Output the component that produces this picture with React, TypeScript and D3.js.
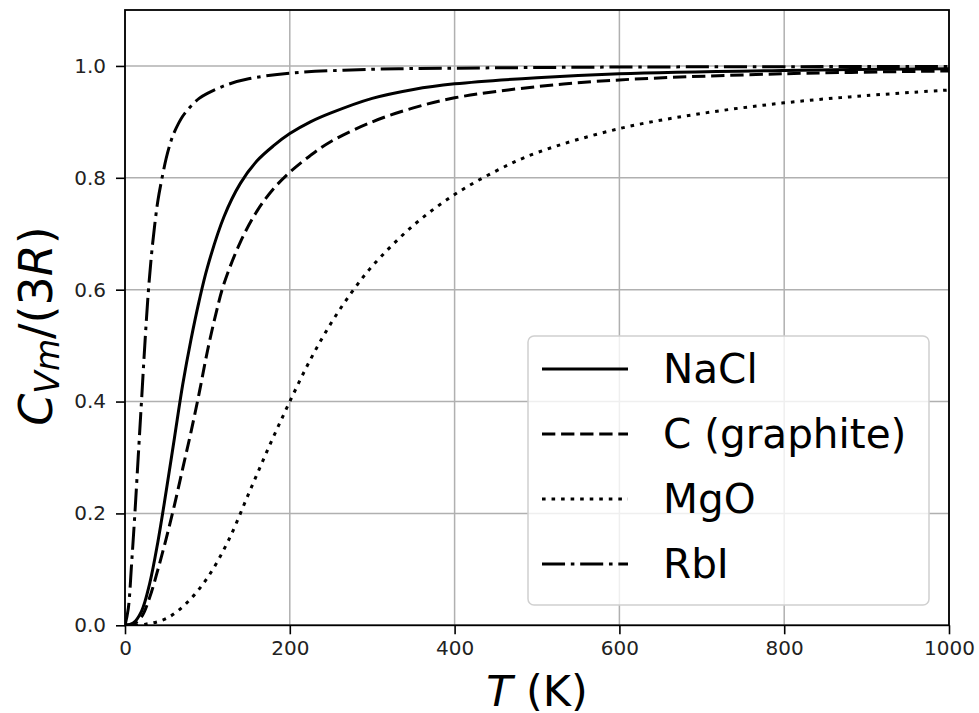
import React, { useEffect, useRef } from "react";
import * as d3 from "d3";

// values (T in K, C_Vm/(3R))
const nacl_T = [0, 10, 20, 30, 40, 50, 60, 70, 80, 90, 100, 120, 140, 160, 180, 200, 225, 250, 300, 350, 400, 500, 600, 800, 1000];
const nacl_C = [0, 0.004, 0.025, 0.075, 0.15, 0.24, 0.335, 0.43, 0.51, 0.58, 0.64, 0.73, 0.79, 0.83, 0.857, 0.879, 0.9, 0.916, 0.942, 0.958, 0.968, 0.979, 0.986, 0.992, 0.995];

const graphite_T = [0, 10, 20, 30, 40, 50, 60, 70, 80, 90, 100, 110, 120, 140, 160, 180, 200, 225, 250, 300, 350, 400, 500, 600, 800, 1000];
const graphite_C = [0, 0.002, 0.015, 0.05, 0.1, 0.155, 0.215, 0.28, 0.345, 0.415, 0.49, 0.555, 0.61, 0.685, 0.74, 0.78, 0.81, 0.84, 0.865, 0.9, 0.925, 0.943, 0.963, 0.975, 0.986, 0.991];

const mgo_T = [0, 25, 50, 75, 100, 125, 150, 175, 200, 225, 250, 275, 300, 350, 400, 450, 500, 600, 700, 800, 900, 1000];
const mgo_C = [0, 0.002, 0.012, 0.04, 0.085, 0.15, 0.235, 0.32, 0.4, 0.475, 0.54, 0.595, 0.642, 0.715, 0.77, 0.812, 0.845, 0.888, 0.915, 0.934, 0.947, 0.957];

const rbi_T = [0, 4, 8, 12, 16, 20, 24, 28, 32, 36, 40, 45, 50, 55, 60, 70, 80, 90, 100, 125, 150, 200, 300, 400, 600, 1000];
const rbi_C = [0, 0.03, 0.11, 0.2, 0.3, 0.4, 0.5, 0.59, 0.66, 0.715, 0.76, 0.8, 0.835, 0.862, 0.882, 0.91, 0.928, 0.942, 0.951, 0.967, 0.977, 0.987, 0.994, 0.996, 0.998, 0.999];

const series_names = ["NaCl", "C (graphite)", "MgO", "RbI"];
const x_ticks = [0, 200, 400, 600, 800, 1000];
const y_ticks = [0, 0.2, 0.4, 0.6, 0.8, 1.0];

const LW = 3.0;
const U = 3.6; // dash unit
const dashes = ["none", `${3.7 * U},${1.6 * U}`, `${U},${1.65 * U}`, `${6.4 * U},${1.6 * U},${U},${1.6 * U}`];

export default function App() {
  const ref = useRef<SVGSVGElement>(null);

  useEffect(() => {
    const width = 979, height = 713;
    const margin = { top: 10, right: 30, bottom: 87.7, left: 125 };
    const inner_width = width - margin.left - margin.right;
    const inner_height = height - margin.top - margin.bottom;
    const font = "'DejaVu Sans', sans-serif";

    const svg = d3.select(ref.current).attr("width", width).attr("height", height);
    svg.selectAll("*").remove();

    const x = d3.scaleLinear().domain([0, 1000]).range([0, inner_width]);
    const y = d3.scaleLinear().domain([0, 1.1]).range([inner_height, 0]);

    const g = svg.append("g").attr("transform", `translate(${margin.left},${margin.top})`);

    svg.append("defs").append("clipPath").attr("id", "plot-clip")
      .append("rect").attr("width", inner_width).attr("height", inner_height);

    // grid
    g.append("g").selectAll("line").data(x_ticks).join("line")
      .attr("x1", d => x(d)).attr("x2", d => x(d)).attr("y1", 0).attr("y2", inner_height)
      .attr("stroke", "#b0b0b0").attr("stroke-width", 1.5);
    g.append("g").selectAll("line").data(y_ticks).join("line")
      .attr("y1", d => y(d)).attr("y2", d => y(d)).attr("x1", 0).attr("x2", inner_width)
      .attr("stroke", "#b0b0b0").attr("stroke-width", 1.5);

    // curves
    const series = [
      { T: nacl_T, C: nacl_C }, { T: graphite_T, C: graphite_C },
      { T: mgo_T, C: mgo_C }, { T: rbi_T, C: rbi_C }
    ];
    const line = d3.line<[number, number]>().x(d => x(d[0])).y(d => y(d[1])).curve(d3.curveCatmullRom.alpha(0.5));
    g.append("g").attr("clip-path", "url(#plot-clip)").selectAll("path").data(series).join("path")
      .attr("d", s => line(s.T.map((t, i) => [t, s.C[i]] as [number, number])))
      .attr("fill", "none").attr("stroke", "#000").attr("stroke-width", LW)
      .attr("stroke-dasharray", (_, i) => dashes[i]).attr("stroke-linejoin", "round");

    // axes
    const xa = g.append("g").attr("transform", `translate(0,${inner_height})`)
      .call(d3.axisBottom(x).tickValues(x_ticks).tickFormat(d3.format("d")).tickSize(9).tickPadding(7));
    const ya = g.append("g")
      .call(d3.axisLeft(y).tickValues(y_ticks).tickFormat(d3.format(".1f")).tickSize(9).tickPadding(10));
    [xa, ya].forEach(a => {
      a.select(".domain").remove();
      a.selectAll("line").attr("stroke", "#000").attr("stroke-width", 1.6);
      a.selectAll("text").attr("font-family", font).attr("font-size", 20).attr("fill", "#222");
    });

    g.append("rect").attr("width", inner_width).attr("height", inner_height)
      .attr("fill", "none").attr("stroke", "#000").attr("stroke-width", 1.8);

    // axis labels
    const xl = svg.append("text").attr("x", margin.left + inner_width / 2).attr("y", 706)
      .attr("text-anchor", "middle").attr("font-family", font).attr("font-size", 43).attr("fill", "#000");
    xl.append("tspan").attr("font-style", "italic").text("T");
    xl.append("tspan").text(" (K)");

    const yl = svg.append("text").attr("transform", `translate(52,326) rotate(-90)`)
      .attr("text-anchor", "middle").attr("font-family", font).attr("font-size", 46).attr("fill", "#000");
    yl.append("tspan").attr("font-style", "italic").text("C");
    yl.append("tspan").attr("font-style", "italic").attr("font-size", 33).attr("dy", 7).text("Vm");
    yl.append("tspan").attr("dy", -7).text("/(3");
    yl.append("tspan").attr("font-style", "italic").text("R");
    yl.append("tspan").text(")");

    // legend
    const lg = svg.append("g");
    lg.append("rect").attr("x", 528).attr("y", 336).attr("width", 401).attr("height", 269).attr("rx", 6)
      .attr("fill", "#fff").attr("fill-opacity", 0.8).attr("stroke", "#d0d0d0").attr("stroke-width", 1.5);
    const rows = lg.selectAll("g.row").data(series_names).join("g").attr("class", "row")
      .attr("transform", (_, i) => `translate(0,${369 + i * 65})`);
    rows.append("line").attr("x1", 542).attr("x2", 628).attr("stroke", "#000").attr("stroke-width", LW)
      .attr("stroke-dasharray", (_, i) => dashes[i]);
    rows.append("text").attr("x", 663).attr("y", 14).attr("font-family", font).attr("font-size", 40.5)
      .attr("fill", "#000").text(d => d);
  }, []);

  return <svg ref={ref} style={{ position: "absolute", left: 0, top: 0 }}></svg>;
}
